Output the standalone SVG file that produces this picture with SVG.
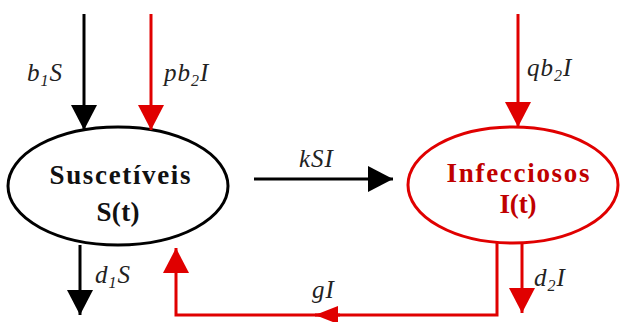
<svg xmlns="http://www.w3.org/2000/svg" width="621" height="322" viewBox="0 0 621 322">
<style>
.lbl{font-family:"Liberation Serif",serif;font-style:italic;font-size:25px;letter-spacing:1px;fill:#222}
.sub{font-size:16px}
.node{font-family:"Liberation Serif",serif;font-weight:bold;font-size:27px;text-anchor:middle}
.blk{stroke:#000;stroke-width:3;fill:none}
.red{stroke:#e00000;stroke-width:3;fill:none}
</style>
<defs>
<marker id="ab" markerUnits="userSpaceOnUse" markerWidth="26" markerHeight="26" refX="25" refY="13" orient="auto"><path d="M0,0 L25,13 L0,26 z" fill="#000"/></marker>
<marker id="ar" markerUnits="userSpaceOnUse" markerWidth="26" markerHeight="26" refX="25" refY="13" orient="auto"><path d="M0,0 L25,13 L0,26 z" fill="#e00000"/></marker>
<marker id="ars" markerUnits="userSpaceOnUse" markerWidth="24" markerHeight="18" refX="23" refY="9" orient="auto"><path d="M0,0 L23,9 L0,18 z" fill="#e00000"/></marker>
</defs>
<rect width="621" height="322" fill="#fff"/>
<g id="S">
<ellipse cx="118" cy="186" rx="110" ry="59" fill="#fff" stroke="#000" stroke-width="3"/>
<text class="node" x="120" y="184" fill="#111" textLength="141" lengthAdjust="spacing">Suscetíveis</text>
<text class="node" x="118" y="221" fill="#111" textLength="43" lengthAdjust="spacing">S(t)</text>
</g>
<g id="I">
<ellipse cx="513" cy="185" rx="105" ry="58" fill="#fff" stroke="#e00000" stroke-width="3"/>
<text class="node" x="518" y="182" fill="#c00000" textLength="143" lengthAdjust="spacing">Infecciosos</text>
<text class="node" x="518" y="213" fill="#c00000" font-size="23" textLength="37" lengthAdjust="spacing">I(t)</text>
</g>
<g id="connectors">
<path class="blk" d="M84,14 V130" marker-end="url(#ab)"/>
<path class="red" d="M151,14 V130" marker-end="url(#ar)"/>
<path class="red" d="M518,14 V127" marker-end="url(#ar)"/>
<path class="blk" d="M254,179 H393" marker-end="url(#ab)"/>
<path class="blk" d="M80,245 V315" marker-end="url(#ab)"/>
<path class="red" d="M522,243 V313" marker-end="url(#ar)"/>
<path class="red" d="M497,243 V315 H176 V248" marker-end="url(#ar)"/>
<path class="red" d="M340,315 H315" stroke-width="0" marker-end="url(#ars)"/>
<text class="lbl" x="27" y="81">b<tspan class="sub" dy="5">1</tspan><tspan dy="-5">S</tspan></text>
<text class="lbl" x="164" y="81">pb<tspan class="sub" dy="5">2</tspan><tspan dy="-5">I</tspan></text>
<text class="lbl" x="527" y="76">qb<tspan class="sub" dy="5">2</tspan><tspan dy="-5">I</tspan></text>
<text class="lbl" x="299" y="167">kSI</text>
<text class="lbl" x="95" y="283">d<tspan class="sub" dy="5">1</tspan><tspan dy="-5">S</tspan></text>
<text class="lbl" x="312" y="298">gI</text>
<text class="lbl" x="534" y="286">d<tspan class="sub" dy="5">2</tspan><tspan dy="-5">I</tspan></text>
</g>
</svg>
